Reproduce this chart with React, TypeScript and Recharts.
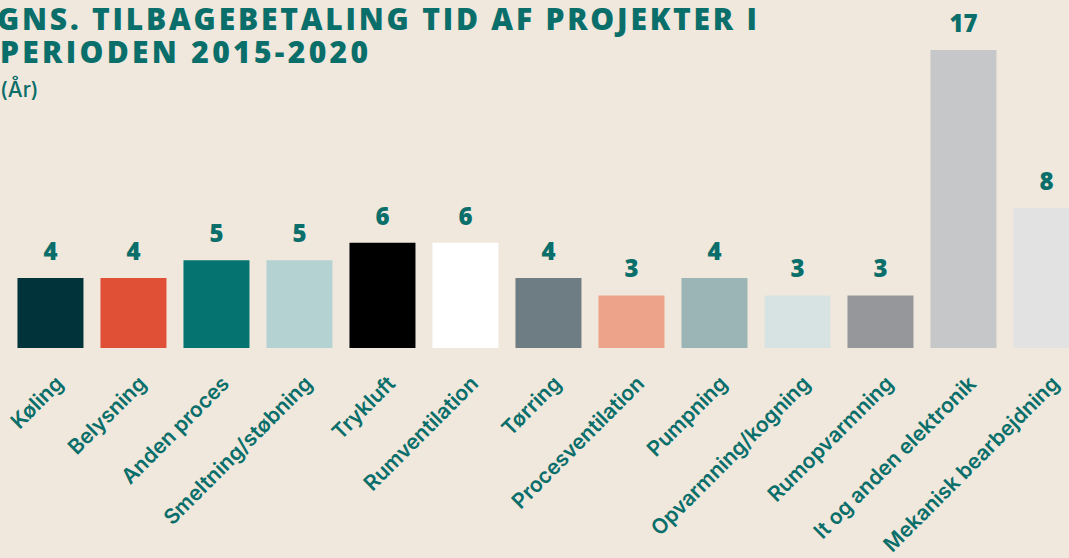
import React from 'react';
import { BarChart, Bar, XAxis, YAxis, Cell, LabelList } from 'recharts';

// Data
const categories = [
  'Køling',
  'Belysning',
  'Anden proces',
  'Smeltning/støbning',
  'Trykluft',
  'Rumventilation',
  'Tørring',
  'Procesventilation',
  'Pumpning',
  'Opvarmning/kogning',
  'Rumopvarmning',
  'It og anden elektronik',
  'Mekanisk bearbejdning',
];
const years = [4, 4, 5, 5, 6, 6, 4, 3, 4, 3, 3, 17, 8];
const barColors = [
  '#00343A', '#E05036', '#057370', '#B5D2D2', '#000000', '#FFFFFF', '#6E7C83',
  '#EDA389', '#9BB5B7', '#D7E3E2', '#96979A', '#C6C7C9', '#E2E2E3',
];

const TEAL = '#0A6E6A';
const BG = '#F0E8DC';

const data = categories.map((name, i) => ({ name, value: years[i] }));

const AngledTick = (props: any) => {
  const { x, y, payload } = props;
  return (
    <g transform={`translate(${x + 14},${y + 29})`}>
      <text
        textAnchor="end"
        transform="rotate(-45)"
        fill={TEAL}
        fontSize={21}
        fontWeight={600}
        fontFamily="Inter, 'Noto Sans', sans-serif"
      >
        {payload.value}
      </text>
    </g>
  );
};

export default function App() {
  return (
    <div
      style={{
        position: 'fixed',
        left: 0,
        top: 0,
        width: 1069,
        height: 558,
        overflow: 'hidden',
        background: BG,
      }}
    >
      <svg width={1069} height={120} style={{ position: 'absolute', left: 0, top: 0 }}>
        <g fill={TEAL} fontFamily="'Open Sans', sans-serif" fontWeight={800} fontSize={30}>
          <text x={-3} y={30} textLength={760} lengthAdjust="spacing">
            GNS. TILBAGEBETALING TID AF PROJEKTER I
          </text>
          <text x={0} y={63} textLength={368} lengthAdjust="spacing">
            PERIODEN 2015-2020
          </text>
        </g>
        <text x={0} y={97} fill={TEAL} fontSize={21} fontWeight={500} fontFamily="Inter, 'Noto Sans', sans-serif">
          (År)
        </text>
      </svg>
      <div style={{ position: 'absolute', left: -1, top: 0 }}>
        <BarChart
          width={1100}
          height={558}
          data={data}
          margin={{ top: 50, right: 11, bottom: 0, left: 10 }}
          barCategoryGap="10.2%"
        >
          <XAxis
            dataKey="name"
            height={210}
            axisLine={false}
            tickLine={false}
            interval={0}
            tick={<AngledTick />}
          />
          <YAxis hide domain={[0, 17]} />
          <Bar dataKey="value" isAnimationActive={false}>
            {data.map((d, i) => (
              <Cell key={d.name} fill={barColors[i]} />
            ))}
            <LabelList
              dataKey="value"
              position="top"
              offset={18}
              fill={TEAL}
              fontSize={24}
              fontWeight={800}
              fontFamily="'Open Sans', sans-serif"
            />
          </Bar>
        </BarChart>
      </div>
    </div>
  );
}
